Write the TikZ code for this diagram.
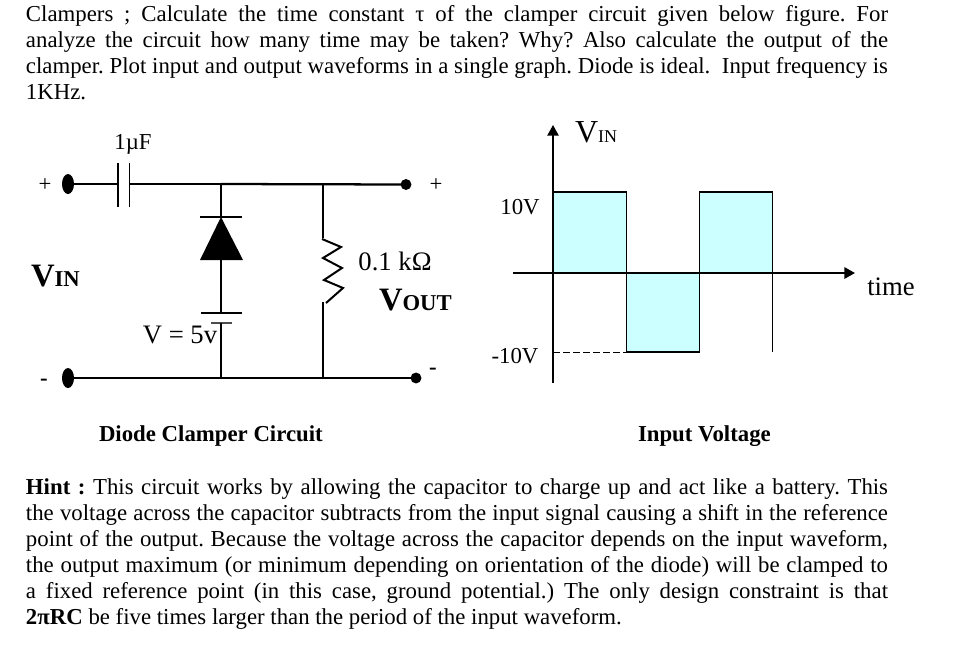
\documentclass[tikz,border=0pt]{standalone}
\usepackage{fontspec}
\setmainfont{Liberation Serif}
\newcommand{\bodysize}{\fontsize{17.1pt}{20pt}\selectfont\frenchspacing}
\newcommand{\lgsize}{\fontsize{20pt}{24pt}\selectfont}
\newcommand{\bigbold}{\fontsize{24.5pt}{28pt}\selectfont\bfseries}
\newcommand{\midbold}{\fontsize{17pt}{20pt}\selectfont\bfseries}
\newcommand{\jline}[1]{\makebox[646.5pt][s]{#1}}
\definecolor{pulsefill}{HTML}{CCFFFF}
\usetikzlibrary{arrows.meta,shapes.geometric}
\tikzset{
  x=0.75pt,y=-0.75pt,
  txt/.style={anchor=base west,inner sep=0pt,outer sep=0pt,font=\bodysize},
  lbl/.style={anchor=base,inner sep=0pt,outer sep=0pt,font=\bodysize},
  lglbl/.style={anchor=base,inner sep=0pt,outer sep=0pt,font=\lgsize},
  wire/.style={line width=0.9pt},
  bus/.style={line width=1.7pt},
  axisline/.style={-{Triangle[length=8pt,width=8.5pt]}},
  term/.style={circle,fill=black,inner sep=0pt,minimum size=8.2pt},
  termtall/.style={ellipse,fill=black,inner sep=0pt,minimum width=9pt,minimum height=15pt},
}
\begin{document}
\begin{tikzpicture}
\useasboundingbox (0,0) rectangle (962,661);
% question text
\node[txt] (q1) at (26,21) {\jline{Clampers ; Calculate the time constant τ of the clamper circuit given below figure. For}};
\node[txt] (q2) at (26,47) {\jline{analyze the circuit how many time may be taken? Why? Also calculate the output of the}};
\node[txt] (q3) at (26,73) {\jline{clamper. Plot input and output waveforms in a single graph. Diode is ideal.\ \ Input frequency is}};
\node[txt] (q4) at (26,99) {1KHz.};
% circuit points
\node[termtall] (inp) at (68,184) {};
\node[termtall] (inm) at (68,378) {};
\node[term] (outp) at (406,184.5) {};
\node[term] (outm) at (416,378) {};
\coordinate (c1t) at (118,163); \coordinate (c1b) at (118,207);
\coordinate (c2t) at (129.5,163); \coordinate (c2b) at (129.5,207);
\coordinate (c1m) at (118,184); \coordinate (c2m) at (129.5,184);
\coordinate (jt) at (221,184); \coordinate (jb) at (221,378);
\coordinate (rt) at (323,184); \coordinate (rb) at (323,378);
\coordinate (da) at (221,260); \coordinate (dk) at (221,217);
\coordinate (bt) at (221,313); \coordinate (bb) at (221,323);
% wires
\draw[bus] (inp.center) -- (c1m);
\draw[wire] (c1t) -- (c1b);
\draw[wire] (c2t) -- (c2b);
\draw[wire] (c2m) -- (jt);
\draw[bus] (jt) -- (outp.center);
\draw[bus] (inm.center) -- (outm.center);
\draw[wire] (jt) -- (dk);
\draw[wire] (200,217) -- (242,217);
\fill (200,260) -- (243,260) -- (dk) -- cycle;
\draw[wire] (da) -- (bt);
\draw[wire] (201,313) -- (242,313);
\draw[wire,black!70] (211,323) -- (232,323);
\draw[wire] (bb) -- (jb);
\draw[wire] (rt) -- (323,238);
\draw[line width=1.5pt] (322,239) -- (341,247) -- (323,258) -- (342,268) -- (324,280) -- (343,288) -- (326,303);
\draw[wire] (323,302) -- (rb);
% circuit labels
\node[lbl] (plusin) at (45,191) {+};
\node[lbl] (minusin) at (44,385) {\textbf{-}};
\node[lbl] (plusout) at (436,191) {+};
\node[lbl] (minusout) at (433,374) {\textbf{-}};
\node[lbl] (cap) at (133,149) {1µF};
\node[lglbl] (vs) at (180,343) {V = 5v};
\node[lglbl] (res) at (395,270) {0.1 kΩ};
\node[txt] (vin) at (31,286) {\bigbold V\midbold IN};
\node[txt] (vout) at (379,310) {\bigbold V\midbold OUT};
% waveform
\fill[pulsefill] (553,192) rectangle (626.5,273);
\fill[pulsefill] (626.5,273) rectangle (699.5,352);
\fill[pulsefill] (699.5,192) rectangle (772.5,273);
\draw[wire] (553,192) -- (626.5,192) -- (626.5,352) -- (699.5,352) -- (699.5,192) -- (772.5,192) -- (772.5,352);
\draw[line width=0.6pt,dash pattern=on 5pt off 2.5pt] (553,352) -- (626.5,352);
\coordinate (vaxb) at (553,383); \coordinate (vaxt) at (553,125);
\coordinate (haxl) at (513,273); \coordinate (haxr) at (855,273);
\draw[axisline,line width=1.1pt] (vaxb) -- (vaxt);
\draw[axisline,line width=1.6pt] (haxl) -- (haxr);
\node[txt] (gv) at (575,142) {\fontsize{24pt}{28pt}\selectfont V\fontsize{13.5pt}{16pt}\selectfont IN};
\node[lbl] (g10) at (520,214) {10V};
\node[lbl] (gm10) at (515,363) {-10V};
\node[lglbl] (gt) at (891,295) {time};
% captions
\node[txt,font=\bodysize\bfseries] (cap1) at (99,441) {Diode Clamper Circuit};
\node[txt,font=\bodysize\bfseries] (cap2) at (638,441) {Input Voltage};
% hint
\node[txt] (h1) at (26,494) {\jline{\textbf{Hint :} This circuit works by allowing the capacitor to charge up and act like a battery. This}};
\node[txt] (h2) at (26,520) {\jline{the voltage across the capacitor subtracts from the input signal causing a shift in the reference}};
\node[txt] (h3) at (26,546) {\jline{point of the output. Because the voltage across the capacitor depends on the input waveform,}};
\node[txt] (h4) at (26,572) {\jline{the output maximum (or minimum depending on orientation of the diode) will be clamped to}};
\node[txt] (h5) at (26,598) {\jline{a fixed reference point (in this case, ground potential.) The only design constraint is that}};
\node[txt] (h6) at (26,624) {\textbf{2πRC} be five times larger than the period of the input waveform.};
\end{tikzpicture}
\end{document}
